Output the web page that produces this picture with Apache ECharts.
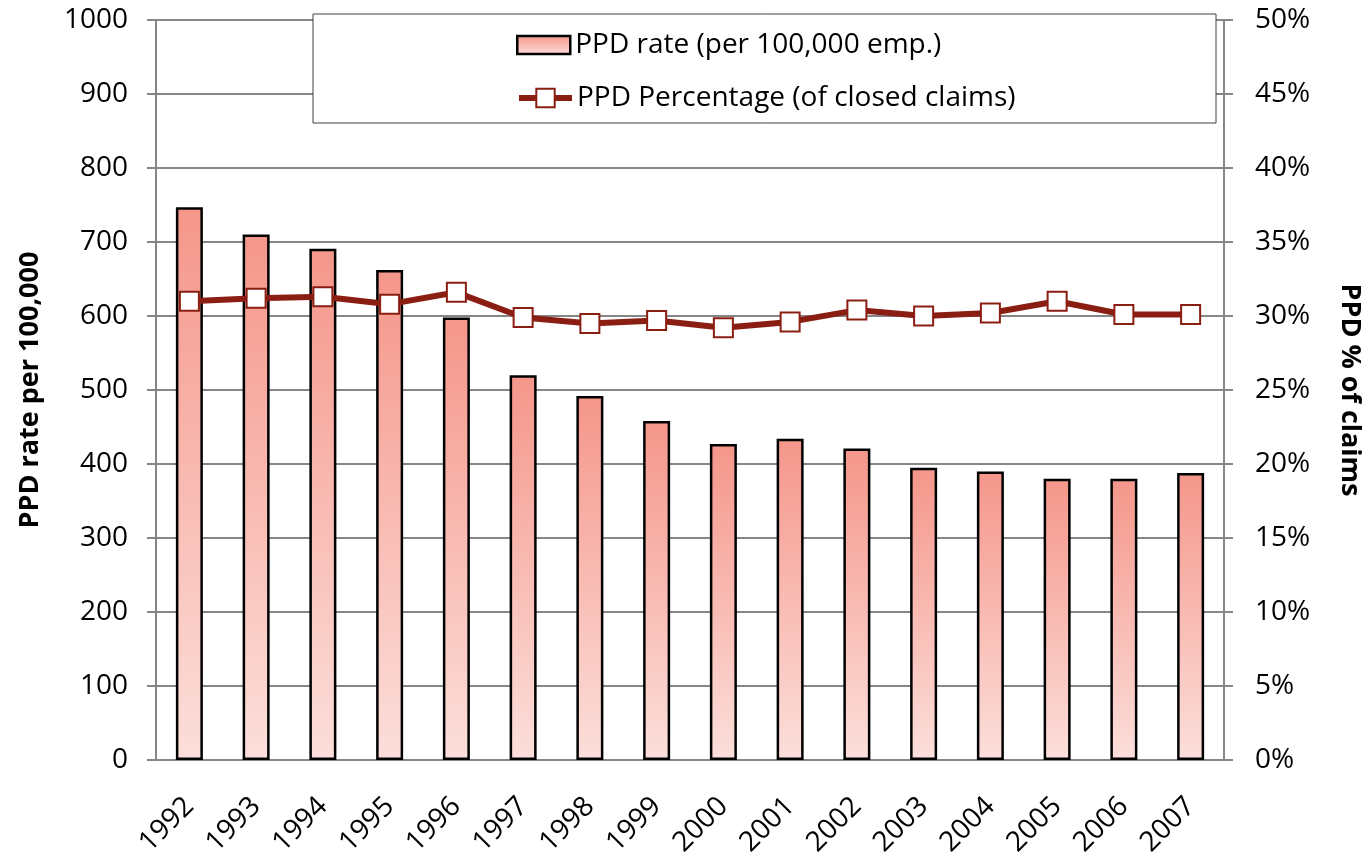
<!DOCTYPE html>
<html>
<head>
<meta charset="utf-8">
<title>PPD rate</title>
<script src="https://cdn.jsdelivr.net/npm/echarts@6/dist/echarts.min.js"></script>
<style>
  html, body { margin: 0; padding: 0; background: #fff; }
  #chart { width: 1371px; height: 861px; }
</style>
</head>
<body>
<div id="chart"></div>
<script>
// data
const years = ['1992', '1993', '1994', '1995', '1996', '1997', '1998', '1999',
  '2000', '2001', '2002', '2003', '2004', '2005', '2006', '2007']
const ppdRate = [747, 710, 691, 662, 598, 520, 492, 458, 427, 434, 421, 395, 390, 380, 380, 388]
const ppdPct = [31.0, 31.2, 31.3, 30.8, 31.6, 29.9, 29.5, 29.7, 29.2, 29.6, 30.4, 30.0, 30.2, 31.0, 30.1, 30.1]

const rateName = 'PPD rate (per 100,000 emp.)'
const pctName = 'PPD Percentage (of closed claims)'

const font = 'Open Sans'
const gridColor = '#868686'
const lineColor = '#8B1E12'

const chart = echarts.init(document.getElementById('chart'))

let option = {
  animation: false,
  textStyle: { fontFamily: font, color: '#000' },
  grid: {
    left: 156,
    right: 141,
    top: 20,
    bottom: 101
  },
  graphic: [
    {
      type: 'rect',
      z: 3,
      shape: { x: 313, y: 14, width: 903, height: 109 },
      style: { fill: '#fff', stroke: '#404040', lineWidth: 1 }
    }
  ],
  legend: [
    {
      z: 10,
      left: 511,
      top: 26,
      icon: 'rect',
      itemWidth: 53,
      itemHeight: 18,
      itemStyle: { borderColor: '#000', borderWidth: 2.5 },
      textStyle: { fontFamily: font, fontSize: 28, color: '#000' },
      data: [rateName]
    },
    {
      z: 10,
      left: 511,
      top: 79,
      itemWidth: 53,
      itemHeight: 23,
      lineStyle: { width: 6, color: lineColor },
      itemStyle: { color: '#fff', borderColor: lineColor, borderWidth: 2 },
      textStyle: { fontFamily: font, fontSize: 28, color: '#000' },
      data: [pctName]
    }
  ],
  xAxis: {
    type: 'category',
    data: years,
    axisLine: { lineStyle: { color: gridColor, width: 2 } },
    axisTick: { length: 9, lineStyle: { color: gridColor, width: 2 } },
    axisLabel: { rotate: 45, fontSize: 28, margin: 42, color: '#000', fontFamily: font }
  },
  yAxis: [
    {
      type: 'value',
      min: 0,
      max: 1000,
      interval: 100,
      name: 'PPD rate per 100,000',
      nameLocation: 'middle',
      nameRotate: 90,
      nameGap: 112,
      nameTextStyle: { fontSize: 27, fontWeight: 'bold', fontFamily: font, color: '#000' },
      axisLine: { show: true, lineStyle: { color: gridColor, width: 2 } },
      axisTick: { show: true, length: 9, lineStyle: { color: gridColor, width: 2 } },
      axisLabel: {
        fontSize: 28, margin: 28, color: '#000', fontFamily: font,
        formatter: function (v) { return String(v) }
      },
      splitLine: { lineStyle: { color: gridColor, width: 2 } }
    },
    {
      type: 'value',
      min: 0,
      max: 50,
      interval: 5,
      name: 'PPD % of claims',
      nameLocation: 'middle',
      nameRotate: -90,
      nameGap: 112,
      nameTextStyle: { fontSize: 27, fontWeight: 'bold', fontFamily: font, color: '#000' },
      axisLine: { show: true, lineStyle: { color: gridColor, width: 2 } },
      axisTick: { show: true, length: 9, lineStyle: { color: gridColor, width: 2 } },
      axisLabel: { fontSize: 28, margin: 31, color: '#000', fontFamily: font, formatter: '{value}%' },
      splitLine: { show: false }
    }
  ],
  series: [
    {
      name: rateName,
      type: 'bar',
      yAxisIndex: 0,
      barWidth: 27,
      itemStyle: {
        borderColor: '#000',
        borderWidth: 2.5,
        color: new echarts.graphic.LinearGradient(0, 0, 0, 1, [
          { offset: 0, color: '#F5968A' },
          { offset: 1, color: '#FCDFDB' }
        ])
      },
      data: ppdRate
    },
    {
      name: pctName,
      type: 'line',
      yAxisIndex: 1,
      symbol: 'rect',
      symbolSize: 19,
      lineStyle: { color: lineColor, width: 6 },
      itemStyle: { color: '#fff', borderColor: lineColor, borderWidth: 2 },
      data: ppdPct
    }
  ]
}

chart.setOption(option)
window.onresize = function () {
  chart.resize()
}
</script>
</body>
</html>
